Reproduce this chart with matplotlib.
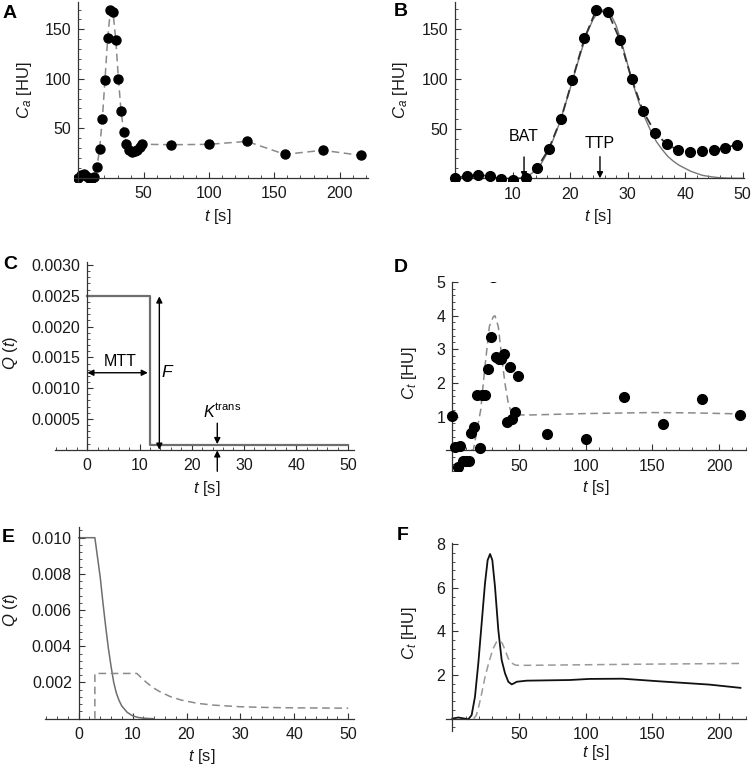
import matplotlib
matplotlib.use("Agg")
import matplotlib.pyplot as plt
from matplotlib.ticker import FixedLocator, MultipleLocator, FormatStrFormatter

plt.rcParams['font.family'] = ['Liberation Sans', 'DejaVu Sans']
plt.rcParams['mathtext.fontset'] = 'custom'
plt.rcParams['mathtext.rm'] = 'Liberation Sans'
plt.rcParams['mathtext.it'] = 'Liberation Sans:italic'
plt.rcParams['mathtext.bf'] = 'Liberation Sans:bold'

W, H = 752, 767

# --- data ---
t_early = [0, 2, 4, 6, 8, 10, 12.3, 14.3, 16.3, 18.4, 20.4, 22.5, 24.5, 26.6,
           28.7, 30.7, 32.7, 34.8, 36.8, 38.8, 40.9, 43, 45, 47, 49]
t_late = [71, 100, 129, 158, 187, 216]

# arterial curve C_a (panels A, B)
ca_early = [0, 2.7, 3.4, 2.3, -0.7, -1.7, 0.7, 10.7, 29.5, 59.4, 99, 141, 169, 167,
            139, 100, 67.4, 46, 34.2, 28.5, 26.5, 27.2, 28.5, 30.9, 33.9]
ca_late = [33.4, 33.8, 36.8, 23.7, 27.8, 22.7]

# gamma-variate fit in panel B
t_fit = list(range(0, 51))
ca_fit = [0, 0, 0, 0, 0, 0, 0, 0, 0, 0, 0,
          0.3, 1.2, 3.5, 8, 15, 25, 38, 53, 71, 90,
          110, 129, 147, 160, 168, 170, 166, 154, 136, 115,
          94, 76, 61, 48, 37, 29, 22, 17, 13, 10,
          7, 5, 3, 2, 1.2, 0.6, 0.3, 0.1, 0, 0]

# tissue curve C_t (panel D)
ct_early = [1.03, 0.11, -0.49, 0.14, -0.33, -0.33, -0.33, 0.5, 0.69, 1.63, 0.06, 1.63, 1.63, 2.42,
            3.37, 5.13, 2.78, 2.72, 2.70, 2.86, 0.84, 2.48, 0.93, 1.13, 2.21]
ct_late = [0.48, 0.34, 1.57, 0.79, 1.53, 1.06]
t_dfit = [14, 15.8, 21.3, 24.5, 27.8, 30.8, 32, 34.5, 37, 39.5, 42, 44.5, 48.3,
          60, 100, 150, 180, 216]
ct_dfit = [0, 0.01, 1.2, 2.49, 3.68, 3.97, 3.99, 3.67, 2.78, 1.98, 1.39, 1.09, 1.05,
           1.05, 1.09, 1.12, 1.11, 1.08]

# impulse residue function, panel C
t_q1 = [0, 12, 12, 50]
q1 = [0.0025, 0.0025, 0.00008, 0.00008]

# panel E
t_e_solid = [0, 3, 4, 4.5, 5, 5.5, 6, 6.5, 7, 7.5, 8, 9, 10, 11, 12, 13, 14]
q_e_solid = [0.010, 0.010, 0.0078, 0.0064, 0.0051, 0.0039, 0.0029, 0.0020, 0.0014,
             0.0010, 0.0007, 0.00035, 0.00016, 0.00007, 0.00003, 0.00001, 0]
t_e_dash = [3, 3, 10.8, 12, 13, 14, 15, 17, 19, 22, 25, 30, 35, 40, 45, 50]
q_e_dash = [0, 0.0025, 0.0025, 0.00215, 0.0019, 0.00168, 0.0015, 0.00122, 0.00103,
            0.00085, 0.00075, 0.00066, 0.00062, 0.0006, 0.00059, 0.00058]

# panel F
t_f_solid = [0, 4.5, 8.3, 12, 14.5, 17, 19.5, 22, 24.5, 26.5, 28.3, 30, 32, 34.5, 37,
             39.5, 42, 44.5, 46.3, 48.3, 55.8, 88, 102.7, 127.7, 155.2, 192.7, 216]
ct_f_solid = [0, 0.05, 0.01, -0.03, 0.16, 1.0, 2.54, 4.37, 6.2, 7.27, 7.55, 7.27, 6.05,
              4.06, 2.69, 2.08, 1.69, 1.57, 1.62, 1.69, 1.74, 1.77, 1.82, 1.83, 1.71,
              1.56, 1.41]
t_f_dash = [16, 18, 20, 22, 24.5, 27.5, 30.5, 33, 35.5, 37.5, 39.5, 42, 44.5, 47, 50,
            100, 150, 216]
ct_f_dash = [0, 0.15, 0.6, 1.15, 1.9, 2.6, 3.2, 3.5, 3.58, 3.45, 3.15, 2.75, 2.55,
             2.46, 2.44, 2.47, 2.5, 2.53]

GRAY = '#8a8a8a'
AX = '#333333'
FS = 11.5

fig = plt.figure(figsize=(W / 100, H / 100), dpi=100)


def make_ax(px0, sx, xlim, py0, sy, ylim):
    x0 = px0 + xlim[0] * sx
    x1 = px0 + xlim[1] * sx
    ytop = py0 - ylim[1] * sy
    ybot = py0 - ylim[0] * sy
    ax = fig.add_axes([x0 / W, 1 - ybot / H, (x1 - x0) / W, (ybot - ytop) / H])
    ax.set_xlim(xlim)
    ax.set_ylim(ylim)
    ax.patch.set_alpha(0)
    for s in ['top', 'right']:
        ax.spines[s].set_visible(False)
    for s in ['left', 'bottom']:
        ax.spines[s].set_position(('data', 0))
        ax.spines[s].set_color(AX)
        ax.spines[s].set_linewidth(0.9)
    ax.tick_params(which='major', direction='in', length=4, width=0.8, colors=AX,
                   labelsize=FS, labelcolor='#1a1a1a')
    ax.tick_params(which='minor', direction='in', length=2, width=0.6, colors=AX)
    ax.tick_params(axis='x', pad=6)
    ax.tick_params(axis='y', pad=5)
    return ax


def ftext(x, y, s, **kw):
    fig.text(x / W, 1 - y / H, s, ha='center', va='center', **kw)


# ---------------- A ----------------
axA = make_ax(78.3, 1.307, (-3.3, 222), 177.8, 0.99, (-4, 178))
axA.plot(t_early + t_late, ca_early + ca_late, ls=(0, (5, 3)), color=GRAY, lw=1.1)
axA.plot(t_early + t_late, ca_early + ca_late, 'o', color='k', ms=6.5, ls='none')
axA.xaxis.set_major_locator(FixedLocator([50, 100, 150, 200]))
axA.xaxis.set_minor_locator(MultipleLocator(10))
axA.yaxis.set_major_locator(FixedLocator([50, 100, 150]))
axA.yaxis.set_minor_locator(MultipleLocator(10))

# ---------------- B ----------------
axB = make_ax(455, 5.753, (-0.9, 50.2), 178.3, 0.993, (-3, 178))
axB.plot(t_fit, ca_fit, color='#777777', lw=1.0)
axB.plot(t_early, ca_early, ls=(0, (5, 2.5)), color='#333333', lw=1.3)
axB.plot(t_early, ca_early, 'o', color='k', ms=7, ls='none', zorder=3)
axB.xaxis.set_major_locator(FixedLocator([10, 20, 30, 40, 50]))
axB.xaxis.set_minor_locator(MultipleLocator(2))
axB.yaxis.set_major_locator(FixedLocator([50, 100, 150]))
axB.yaxis.set_minor_locator(MultipleLocator(10))
arr = dict(arrowstyle='-|>', color='k', lw=1.0, mutation_scale=9, shrinkA=0, shrinkB=0)
axB.annotate('', xy=(12, 0), xytext=(12, 21.5), arrowprops=arr)
axB.text(12, 42, 'BAT', ha='center', va='center', fontsize=FS)
axB.annotate('', xy=(25.2, 0), xytext=(25.2, 21.8), arrowprops=arr)
axB.text(25.2, 35, 'TTP', ha='center', va='center', fontsize=FS)

# ---------------- C ----------------
sC = 184.7 / 0.003
axC = make_ax(87.3, 5.22, (-6.2, 51), 449.7, sC, (-0.0004, 0.00305))
axC.spines['left'].set_bounds(0, 0.00305)
axC.plot(t_q1, q1, color='#6e6e6e', lw=1.6)
axC.xaxis.set_major_locator(FixedLocator([0, 10, 20, 30, 40, 50]))
axC.xaxis.set_minor_locator(MultipleLocator(2))
axC.yaxis.set_major_locator(FixedLocator([0.0005, 0.001, 0.0015, 0.002, 0.0025, 0.003]))
axC.yaxis.set_minor_locator(FixedLocator([i * 0.0001 for i in range(1, 31)]))
axC.yaxis.set_major_formatter(FormatStrFormatter('%.4f'))
dbl = dict(arrowstyle='<|-|>', color='k', lw=1.0, mutation_scale=9, shrinkA=0, shrinkB=0)
axC.annotate('', xy=(0, 0.00125), xytext=(11.6, 0.00125), arrowprops=dbl)
axC.text(6.3, 0.00143, 'MTT', ha='center', va='center', fontsize=FS)
axC.annotate('', xy=(13.8, 0.0), xytext=(13.8, 0.00249), arrowprops=dbl)
axC.text(15.4, 0.00127, '$F$', ha='center', va='center', fontsize=FS + 1)
axC.annotate('', xy=(24.9, 0.00009), xytext=(24.9, 0.00043), arrowprops=arr,
             annotation_clip=False)
axC.annotate('', xy=(24.9, -0.00001), xytext=(24.9, -0.00035), arrowprops=arr,
             annotation_clip=False)
axC.text(25.8, 0.00063, r'$K^{\mathrm{trans}}$', ha='center', va='center', fontsize=FS)

# ---------------- D ----------------
axD = make_ax(452.3, 1.334, (-4.6, 220), 450.3, 33.7, (-0.6, 5.0))
axD.plot(t_dfit, ct_dfit, ls=(0, (5, 3)), color=GRAY, lw=1.1)
axD.plot(t_early + t_late, ct_early + ct_late, 'o', color='k', ms=7, ls='none', zorder=3)
axD.xaxis.set_major_locator(FixedLocator([50, 100, 150, 200]))
axD.xaxis.set_minor_locator(MultipleLocator(10))
axD.yaxis.set_major_locator(FixedLocator([1, 2, 3, 4, 5]))
axD.yaxis.set_minor_locator(MultipleLocator(0.2))

# ---------------- E ----------------
axE = make_ax(78.7, 5.39, (-6.2, 51), 718.7, 18100, (-0.0005, 0.0106))
axE.spines['left'].set_bounds(0, 0.0106)
axE.plot(t_e_solid, q_e_solid, color='#6e6e6e', lw=1.1)
axE.plot(t_e_dash, q_e_dash, ls=(0, (5, 3)), color=GRAY, lw=1.1)
axE.xaxis.set_major_locator(FixedLocator([0, 10, 20, 30, 40, 50]))
axE.xaxis.set_minor_locator(MultipleLocator(2))
axE.yaxis.set_major_locator(FixedLocator([0.002, 0.004, 0.006, 0.008, 0.010]))
axE.yaxis.set_minor_locator(FixedLocator([i * 0.0004 for i in range(1, 27)]))
axE.yaxis.set_major_formatter(FormatStrFormatter('%.3f'))

# ---------------- F ----------------
axF = make_ax(452.3, 1.334, (-4.6, 220), 718.6, 21.8, (-0.55, 8.05))
axF.plot(t_f_solid, ct_f_solid, color='#111111', lw=1.3)
axF.plot(t_f_dash, ct_f_dash, ls=(0, (5, 3)), color='#999999', lw=1.1)
axF.xaxis.set_major_locator(FixedLocator([50, 100, 150, 200]))
axF.xaxis.set_minor_locator(MultipleLocator(10))
axF.yaxis.set_major_locator(FixedLocator([2, 4, 6, 8]))
axF.yaxis.set_minor_locator(MultipleLocator(0.4))

# ---------------- labels ----------------
lab = dict(fontsize=12, color='#1a1a1a')
ftext(25, 90, '$C_a$ [HU]', rotation=90, **lab)
ftext(218, 217, '$t$ [s]', **lab)
ftext(401, 90, '$C_a$ [HU]', rotation=90, **lab)
ftext(598, 217, '$t$ [s]', **lab)
ftext(10, 353, '$Q\\ (t)$', rotation=90, **lab)
ftext(207, 488, '$t$ [s]', **lab)
ftext(409, 373, '$C_t$ [HU]', rotation=90, **lab)
ftext(596, 487, '$t$ [s]', **lab)
ftext(10, 610, '$Q\\ (t)$', rotation=90, **lab)
ftext(202, 757, '$t$ [s]', **lab)
ftext(409, 633, '$C_t$ [HU]', rotation=90, **lab)
ftext(596, 752, '$t$ [s]', **lab)

let = dict(fontsize=14, fontweight='bold', color='k')
ftext(10, 13, 'A', **let)
ftext(401, 12, 'B', **let)
ftext(10, 265, 'C', **let)
ftext(401, 267, 'D', **let)
ftext(8, 537, 'E', **let)
ftext(403, 536, 'F', **let)

fig.savefig('out.png', dpi=100)
